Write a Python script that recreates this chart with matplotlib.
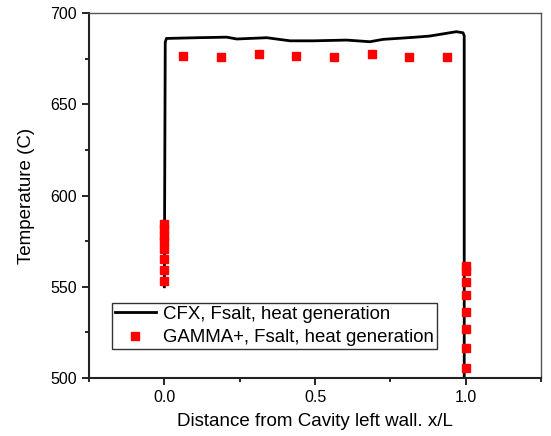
import matplotlib
matplotlib.use("Agg")
import matplotlib.pyplot as plt
from matplotlib.ticker import MultipleLocator

plt.rcParams['font.family'] = ['Liberation Sans', 'DejaVu Sans']

# CFX line: up the left wall, across the top, down the right wall
cfx_x = [0.0, 0.003, 0.007, 0.108, 0.207, 0.24, 0.34, 0.417, 0.494, 0.605,
         0.682, 0.726, 0.826, 0.88, 0.969, 0.991, 0.995, 0.995]
cfx_t = [550, 684, 686.1, 686.5, 686.8, 685.8, 686.5, 684.8, 684.8, 685.2,
         684.3, 685.6, 686.7, 687.4, 689.8, 689.2, 687.5, 500]

# GAMMA+ points
gam_left_x = [0.0] * 8
gam_left_t = [584.5, 581.5, 578, 575, 570.5, 565, 559, 553]
gam_top_x = [0.0625, 0.1875, 0.3125, 0.4375, 0.5625, 0.6875, 0.8125, 0.9375]
gam_top_t = [676.4, 675.9, 677.5, 676.4, 676.2, 677.5, 675.9, 675.9]
gam_right_x = [1.0] * 8
gam_right_t = [561.5, 558.5, 552.5, 545.5, 536, 527, 516.5, 505.5]

gam_x = gam_left_x + gam_top_x + gam_right_x
gam_t = gam_left_t + gam_top_t + gam_right_t

fig = plt.figure(figsize=(5.51, 4.36), dpi=100)
ax = fig.add_axes([0.1615, 0.133, 0.8205, 0.837])

ax.plot(cfx_x, cfx_t, color='black', lw=2, label='CFX, Fsalt, heat generation', zorder=2)
ax.plot(gam_x, gam_t, ls='none', marker='s', ms=6, color='#ff0000', mec='#ff0000',
        label='GAMMA+, Fsalt, heat generation', zorder=3)

ax.set_xlim(-0.25, 1.25)
ax.set_ylim(500, 700)
ax.xaxis.set_major_locator(MultipleLocator(0.5))
ax.xaxis.set_minor_locator(MultipleLocator(0.25))
ax.yaxis.set_major_locator(MultipleLocator(50))
ax.yaxis.set_minor_locator(MultipleLocator(25))
ax.set_xticks([0.0, 0.5, 1.0])
ax.set_xticklabels(['0.0', '0.5', '1.0'])

ax.tick_params(which='both', direction='out', top=False, right=False, labelsize=11.5, width=1.2)
ax.tick_params(which='major', length=5)
ax.tick_params(which='minor', length=3)

for s in ['left', 'bottom']:
    ax.spines[s].set_linewidth(1.5)
    ax.spines[s].set_color('#222222')
for s in ['top', 'right']:
    ax.spines[s].set_linewidth(1.0)
    ax.spines[s].set_color('#555555')

ax.set_xlabel('Distance from Cavity left wall. x/L', fontsize=13.5, labelpad=6)
ax.set_ylabel('Temperature (C)', fontsize=13.5, labelpad=11)

leg = ax.legend(loc='lower left', bbox_to_anchor=(0.051, 0.079), borderaxespad=0,
                fontsize=13.4, frameon=True, fancybox=False, edgecolor='black',
                handlelength=2.2, handletextpad=0.4, borderpad=0.15, labelspacing=0.35)
leg.get_frame().set_linewidth(1.0)

fig.savefig('out.png', dpi=100)
